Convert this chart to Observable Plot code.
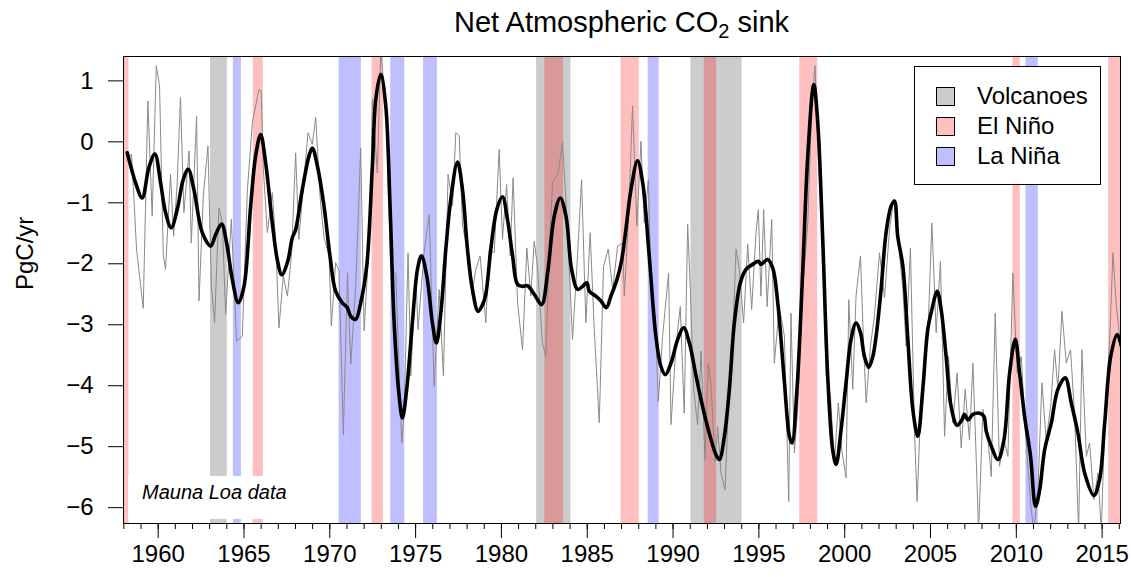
<!DOCTYPE html>
<html>
<head>
<meta charset="utf-8">
<script src="https://cdn.jsdelivr.net/npm/d3@7"></script>
<script src="https://cdn.jsdelivr.net/npm/@observablehq/plot@0.6"></script>
<style>
  body { margin: 0; background: white; }
  #wrap { position: relative; width: 1131px; height: 577px; font-family: 'Liberation Sans', Arial, Helvetica, sans-serif; }
  #title { position: absolute; left: 123px; width: 997px; top: 6px; text-align: center; font-size: 29px; color: #000; }
  #title sub { font-size: 20px; vertical-align: -6px; line-height: 0; }
  #legend { position: absolute; left: 914px; top: 66px; width: 185px; height: 117px; border: 1px solid #000; background: #fff; box-sizing: content-box; }
  .row { position: absolute; left: 0; height: 30px; display: flex; align-items: center; font-size: 24px; }
  .sw { position: absolute; left: 21px; width: 17px; height: 17px; border: 1px solid #000; }
  .lab { position: absolute; left: 62px; white-space: nowrap; }
  #mauna { position: absolute; left: 128px; top: 476px; width: 176px; height: 43px; background: #fff; }
  #mauna span { position: absolute; left: 14px; top: 5px; font-size: 20px; font-style: italic; }
</style>
</head>
<body>
<div id="wrap">
  <div id="chart"></div>
  <div id="title">Net Atmospheric CO<sub>2</sub> sink</div>
  <div id="mauna"><span>Mauna Loa data</span></div>
  <div id="legend"></div>
</div>
<script>
// ---- data ----
const legendLabels = ["Volcanoes", "El Niño", "La Niña"];
const legendColors = ["#cccccc", "#ffbfbf", "#bfbfff"];

const volcanoStart = [1963.05, 1982.05, 1991.04];
const volcanoEnd   = [1964.03, 1984.05, 1994.02];
const elNinoStart  = [1957.9, 1965.54, 1972.46, 1982.53, 1986.97, 1991.82, 1997.38, 2009.80, 2015.38];
const elNinoEnd    = [1958.3, 1966.13, 1973.12, 1983.62, 1988.03, 1992.54, 1998.43, 2010.23, 2016.5];
const laNinaStart  = [1964.38, 1970.54, 1973.55, 1975.46, 1988.55, 2010.56];
const laNinaEnd    = [1964.85, 1971.84, 1974.37, 1976.27, 1989.19, 2011.28];

const xMajorTicks = [1960, 1965, 1970, 1975, 1980, 1985, 1990, 1995, 2000, 2005, 2010, 2015];
const xMinorTicks = d3.range(1958, 2017);
const yTicks = [-6, -5, -4, -3, -2, -1, 0, 1];

const smoothYear = [1958.2,1958.45,1958.68,1959.07,1959.46,1959.81,1960.14,1960.43,1960.76,1961.11,1961.46,1961.75,1962.08,1962.57,1963.06,1963.35,1963.7,1963.99,1964.32,1964.67,1965.0,1965.39,1965.68,1965.97,1966.26,1966.65,1966.94,1967.2,1967.53,1967.82,1968.01,1968.4,1968.79,1968.98,1969.28,1969.66,1970.01,1970.34,1970.73,1971.02,1971.22,1971.51,1971.8,1972.15,1972.48,1972.68,1972.97,1973.26,1973.51,1973.75,1974.04,1974.23,1974.48,1974.81,1975.11,1975.34,1975.65,1975.98,1976.21,1976.47,1976.76,1977.05,1977.44,1977.73,1978.02,1978.31,1978.64,1978.9,1979.09,1979.38,1979.73,1980.06,1980.35,1980.65,1980.94,1981.23,1981.52,1981.91,1982.34,1982.69,1983.08,1983.43,1983.76,1984.09,1984.44,1984.73,1984.98,1985.12,1985.5,1985.8,1986.11,1986.38,1986.73,1987.0,1987.25,1987.55,1987.93,1988.23,1988.61,1989.0,1989.29,1989.55,1989.88,1990.27,1990.62,1990.95,1991.34,1991.72,1992.11,1992.5,1992.7,1992.99,1993.28,1993.57,1993.92,1994.25,1994.64,1994.97,1995.12,1995.51,1995.81,1996.1,1996.49,1996.78,1996.93,1997.22,1997.55,1997.85,1998.2,1998.43,1998.72,1999.01,1999.3,1999.5,1999.79,2000.08,2000.37,2000.66,2000.92,2001.15,2001.4,2001.64,2001.83,2002.12,2002.41,2002.71,2002.9,2003.09,2003.39,2003.68,2003.97,2004.26,2004.55,2004.84,2005.08,2005.39,2005.62,2005.91,2006.2,2006.55,2006.83,2006.98,2007.18,2007.47,2007.86,2008.11,2008.25,2008.54,2008.93,2009.28,2009.61,2009.94,2010.19,2010.48,2010.83,2011.12,2011.36,2011.65,2012.04,2012.42,2012.85,2013.2,2013.59,2013.98,2014.52,2014.85,2015.15,2015.5,2015.88,2016.12];
const smoothValue = [-0.18,-0.45,-0.67,-0.92,-0.42,-0.2,-0.67,-1.16,-1.41,-1.11,-0.62,-0.45,-0.78,-1.49,-1.71,-1.52,-1.35,-1.66,-2.26,-2.64,-2.37,-1.05,-0.23,0.12,-0.34,-1.33,-1.93,-2.18,-1.98,-1.57,-1.44,-0.78,-0.23,-0.1,-0.4,-1.05,-1.87,-2.45,-2.64,-2.72,-2.86,-2.91,-2.64,-2.04,-0.4,0.7,1.11,0.59,-1.05,-2.97,-4.17,-4.53,-4.06,-2.97,-2.09,-1.87,-2.2,-2.97,-3.3,-2.8,-1.76,-0.94,-0.33,-0.78,-1.76,-2.42,-2.78,-2.67,-2.5,-1.76,-1.11,-0.9,-1.27,-1.87,-2.34,-2.37,-2.36,-2.5,-2.67,-2.15,-1.22,-0.92,-1.22,-2.09,-2.42,-2.37,-2.31,-2.45,-2.53,-2.61,-2.72,-2.53,-2.26,-1.95,-1.44,-0.78,-0.31,-0.67,-1.87,-3.19,-3.68,-3.82,-3.63,-3.24,-3.05,-3.3,-3.84,-4.34,-4.78,-5.13,-5.21,-4.83,-4.06,-2.97,-2.31,-2.09,-2.01,-1.96,-2.01,-1.93,-2.07,-2.64,-3.95,-4.83,-4.94,-4.06,-2.15,-0.23,0.94,0.32,-1.6,-3.84,-5.05,-5.29,-4.72,-3.95,-3.24,-2.97,-3.13,-3.52,-3.7,-3.52,-3.19,-2.42,-1.49,-1.05,-0.97,-1.55,-2.04,-3.24,-4.39,-4.83,-4.06,-3.08,-2.75,-2.45,-2.75,-3.52,-4.34,-4.65,-4.56,-4.47,-4.56,-4.47,-4.45,-4.5,-4.75,-4.99,-5.21,-4.89,-3.79,-3.24,-3.79,-4.5,-5.16,-5.98,-5.71,-5.05,-4.61,-4.06,-3.87,-4.28,-4.78,-5.43,-5.8,-5.54,-4.61,-3.52,-3.16,-3.35];

const rawYear = [1958.2,1958.45,1958.74,1959.13,1959.4,1959.65,1959.89,1960.08,1960.3,1960.43,1960.72,1960.9,1961.1,1961.3,1961.5,1961.8,1961.93,1962.24,1962.38,1962.63,1962.9,1963.1,1963.29,1963.54,1963.74,1963.93,1964.26,1964.57,1964.9,1965.2,1965.49,1965.87,1966.0,1966.13,1966.36,1966.65,1966.85,1967.04,1967.29,1967.53,1967.78,1968.01,1968.2,1968.46,1968.73,1968.98,1969.18,1969.43,1969.66,1969.96,1970.09,1970.34,1970.54,1970.79,1971.03,1971.22,1971.51,1971.8,1972.0,1972.19,1972.39,1972.48,1972.77,1972.97,1973.26,1973.55,1973.84,1974.19,1974.33,1974.56,1974.72,1975.01,1975.14,1975.49,1975.79,1976.08,1976.37,1976.62,1976.89,1977.15,1977.34,1977.54,1977.73,1978.02,1978.28,1978.51,1978.76,1979.09,1979.29,1979.58,1979.87,1980.06,1980.3,1980.51,1980.68,1980.94,1981.23,1981.48,1981.71,1981.91,1982.1,1982.39,1982.59,1982.78,1982.98,1983.31,1983.56,1983.85,1984.14,1984.4,1984.67,1984.92,1985.17,1985.41,1985.7,1985.95,1986.22,1986.48,1986.77,1987.06,1987.16,1987.39,1987.64,1987.89,1988.13,1988.32,1988.56,1988.75,1988.96,1989.14,1989.39,1989.74,1989.88,1990.17,1990.42,1990.65,1990.85,1991.0,1991.2,1991.43,1991.63,1991.86,1992.05,1992.21,1992.44,1992.6,1992.79,1993.03,1993.22,1993.43,1993.67,1993.86,1994.11,1994.35,1994.58,1994.83,1994.97,1995.12,1995.28,1995.48,1995.75,1995.9,1996.19,1996.49,1996.74,1996.87,1997.07,1997.26,1997.55,1997.85,1998.08,1998.27,1998.53,1998.72,1998.92,1999.17,1999.4,1999.63,1999.83,2000.08,2000.24,2000.47,2000.66,2000.92,2001.11,2001.25,2001.5,2001.73,2002.03,2002.32,2002.61,2002.86,2003.09,2003.39,2003.58,2003.83,2004.07,2004.22,2004.42,2004.65,2004.88,2005.08,2005.33,2005.58,2005.82,2006.05,2006.3,2006.55,2006.79,2007.02,2007.27,2007.47,2007.66,2007.8,2008.05,2008.3,2008.54,2008.77,2009.02,2009.28,2009.51,2009.8,2010.05,2010.29,2010.52,2010.83,2011.02,2011.26,2011.49,2011.74,2012.0,2012.23,2012.42,2012.66,2012.91,2013.16,2013.4,2013.63,2013.82,2014.08,2014.27,2014.52,2014.76,2014.95,2015.15,2015.44,2015.63,2015.83,2016.08];
const rawValue = [-0.3,-0.2,-1.76,-2.73,0.67,-1.22,1.25,0.92,-1.87,-2.09,-0.53,-1.55,-0.72,0.73,-1.16,-0.15,-1.66,0.42,-2.61,-0.89,-0.07,-2.37,-2.97,-1.08,-1.33,-2.83,-1.27,-3.27,-3.19,-0.78,0.32,0.86,0.84,-0.45,-1.49,-0.83,-1.66,-3.05,-2.2,-2.53,-1.82,-0.18,-1.6,-0.72,0.15,-0.04,0.4,-0.89,-1.57,-1.87,-3.02,-1.98,-2.12,-4.8,-2.15,-3.65,-2.37,-0.1,-3.1,-2.15,-1.05,0.7,-0.51,1.5,0.59,-2.09,-2.15,-4.94,-4.45,-1.82,-3.84,-2.15,-3.08,-1.82,-1.19,-4.01,-2.42,-3.84,-0.53,-1.05,0.15,0.1,-1.38,-1.76,-2.5,-2.09,-1.87,-2.97,-1.76,-1.82,-0.12,-1.6,-0.7,-1.87,-0.59,-2.64,-3.41,-1.74,-2.53,-1.63,-2.04,-3.3,-3.52,-1.82,-0.67,-0.51,0.01,-1.44,-3.24,-2.04,-0.62,-2.97,-1.49,-3.08,-4.61,-2.04,-1.76,-2.42,-1.71,-1.66,-2.53,-1.33,0.59,-1.38,0.01,-1.33,-0.62,-2.64,-2.86,-4.26,-3.19,-2.15,-4.64,-3.35,-2.7,-4.45,-1.35,-2.37,-4.06,-4.64,-3.43,-5.21,-3.63,-3.98,-5.24,-4.67,-5.43,-5.71,-4.34,-3.52,-1.76,-2.09,-2.97,-1.68,-2.75,-1.49,-1.11,-2.53,-1.11,-2.7,-1.27,-3.63,-2.7,-3.19,-5.9,-2.81,-5.1,-4.39,-2.42,-1.33,0.59,1.25,-0.72,-1.6,-3.84,-4.17,-5.27,-4.28,-5.05,-5.51,-2.59,-4.06,-2.53,-1.87,-3.41,-4.28,-3.35,-2.86,-1.82,-2.56,-1.44,-0.94,-1.55,-2.42,-3.35,-1.74,-4.78,-5.9,-4.45,-3.84,-2.91,-1.33,-3.13,-1.96,-4.83,-3.52,-4.61,-3.79,-5.02,-4.06,-4.89,-3.63,-5.16,-6.4,-4.39,-4.72,-5.49,-2.81,-5.32,-4.89,-5.16,-2.15,-3.79,-3.52,-4.72,-5.92,-6.4,-5.71,-3.95,-4.89,-4.34,-3.41,-4.06,-2.78,-3.63,-3.41,-4.5,-6.4,-3.41,-5.16,-4.94,-5.87,-5.43,-6.4,-4.61,-3.24,-1.82,-2.7,-3.35];

// ---- tables built from the arrays ----
const smooth = smoothYear.map((x, i) => ({x, y: smoothValue[i]}));
const raw = rawYear.map((x, i) => ({x, y: rawValue[i]}));
const volcanoes = volcanoStart.map((s, i) => ({x1: s, x2: volcanoEnd[i]}));
const elNino = elNinoStart.map((s, i) => ({x1: s, x2: elNinoEnd[i]}));
const laNina = laNinaStart.map((s, i) => ({x1: s, x2: laNinaEnd[i]}));

const chart = Plot.plot({
  width: 1131,
  height: 577,
  marginLeft: 123,
  marginRight: 11,
  marginTop: 56,
  marginBottom: 54,
  style: {fontFamily: "'Liberation Sans', Arial, Helvetica, sans-serif", fontSize: "24px", background: "white", color: "black"},
  x: {domain: [1957.98, 2016.07]},
  y: {domain: [-6.26, 1.40]},
  marks: [
    Plot.rect(volcanoes, {x1: "x1", x2: "x2", fill: "#cccccc", clip: true}),
    Plot.rect(elNino, {x1: "x1", x2: "x2", fill: "rgba(255,0,0,0.25)", clip: true}),
    Plot.rect(laNina, {x1: "x1", x2: "x2", fill: "rgba(0,0,255,0.25)", clip: true}),
    Plot.line(raw, {x: "x", y: "y", stroke: "#8a8a8a", strokeWidth: 1, clip: true}),
    Plot.line(smooth, {x: "x", y: "y", stroke: "black", strokeWidth: 3.6, curve: "catmull-rom", clip: true, strokeLinejoin: "round"}),
    Plot.axisX({ticks: xMinorTicks, tickSize: 6, tickFormat: () => "", label: null}),
    Plot.axisX({ticks: xMajorTicks, tickSize: 15, tickPadding: 6, tickFormat: "d", fontSize: 24, label: null}),
    Plot.axisY({ticks: yTicks, tickSize: 15, tickPadding: 15, fontSize: 24, label: null}),
    Plot.text(["PgC/yr"], {frameAnchor: "left", dx: -98, rotate: -90, fontSize: 24}),
    Plot.frame({stroke: "black", strokeWidth: 1})
  ]
});
document.getElementById("chart").appendChild(chart);

// legend
const legend = document.getElementById("legend");
legendLabels.forEach((lab, i) => {
  const row = document.createElement("div");
  row.className = "row";
  row.style.top = (14 + i * 30) + "px";
  row.innerHTML = `<div class="sw" style="background:${legendColors[i]}"></div><div class="lab">${lab}</div>`;
  legend.appendChild(row);
});
</script>
</body>
</html>
